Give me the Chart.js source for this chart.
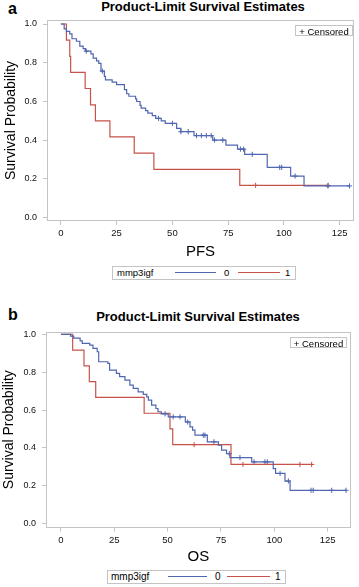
<!DOCTYPE html>
<html>
<head>
<meta charset="utf-8">
<script src="https://cdn.jsdelivr.net/npm/chart.js@4.4.1/dist/chart.umd.min.js"></script>
<style>
  html, body { margin:0; padding:0; background:#fff; }
  body { width:359px; height:587px; position:relative; overflow:hidden; font-family:"Liberation Sans", Arial, sans-serif; color:#000; }
  canvas { position:absolute; left:0; }
  .lab { position:absolute; font-weight:bold; font-size:16px; line-height:16px; }
  .ttl { position:absolute; font-weight:bold; font-size:13px; line-height:13px; white-space:nowrap; transform:translateX(-50%); }
  .cens { position:absolute; border:1px solid #c4c4c4; box-sizing:border-box; font-size:9.5px; line-height:9px; text-align:center; white-space:nowrap; background:#fff; }
  .leg { position:absolute; border:1px solid #c4c4c4; box-sizing:border-box; background:#fff; }
  .lt { position:absolute; font-size:9.5px; line-height:10px; white-space:nowrap; }
  .ll { position:absolute; height:0; border-top:1.3px solid; }
</style>
</head>
<body>
<div class="lab" style="left:8px;top:1px;">a</div>
<div class="ttl" style="left:203px;top:0px;">Product-Limit Survival Estimates</div>
<canvas id="cA" width="359" height="265" style="top:0px;"></canvas>
<div class="cens" style="left:295px;top:25px;width:58px;height:11px;padding-top:1px;">+ Censored</div>
<div class="leg" style="left:112px;top:266px;width:184px;height:14px;"></div>
<div class="lt" style="left:117px;top:268px;">mmp3igf</div>
<div class="ll" style="left:175px;top:272px;width:41px;border-color:#4f66b0;"></div>
<div class="lt" style="left:224px;top:268px;">0</div>
<div class="ll" style="left:238px;top:272px;width:42px;border-color:#c5534a;"></div>
<div class="lt" style="left:285px;top:268px;">1</div>

<div class="lab" style="left:8px;top:307px;">b</div>
<div class="ttl" style="left:198px;top:310px;">Product-Limit Survival Estimates</div>
<canvas id="cB" width="359" height="270" style="top:300px;"></canvas>
<div class="cens" style="left:290px;top:337px;width:57px;height:11px;padding-top:1px;">+ Censored</div>
<div class="leg" style="left:107px;top:570px;width:179px;height:14px;"></div>
<div class="lt" style="left:111px;top:572px;font-size:10px;">mmp3igf</div>
<div class="ll" style="left:168px;top:576px;width:39px;border-color:#4f66b0;"></div>
<div class="lt" style="left:215px;top:572px;font-size:10px;">0</div>
<div class="ll" style="left:227px;top:576px;width:43px;border-color:#c5534a;"></div>
<div class="lt" style="left:275px;top:572px;font-size:10px;">1</div>

<script>
// ---------- DATA ----------
const xTicks = [0, 25, 50, 75, 100, 125];
const yTicks = [0.0, 0.2, 0.4, 0.6, 0.8, 1.0];
const groupLabels = ['0', '1'];

// Panel a: PFS
const pfsTime0 = [0, 1.5, 2.5, 4, 5, 7, 8.5, 10, 11, 13.5, 14.5, 16, 17, 18, 19.5, 20, 23, 25, 28.5, 29.5, 30.5, 33.5, 34, 35.5, 36, 38, 39, 41, 42.5, 45, 46.8, 51.9, 53.8, 59.7, 68.1, 74, 79.2, 82.4, 92.5, 103, 109, 129.4];
const pfsSurv0 = [1, 0.975, 0.962, 0.949, 0.924, 0.911, 0.886, 0.873, 0.86, 0.846, 0.824, 0.81, 0.797, 0.757, 0.73, 0.712, 0.70, 0.687, 0.661, 0.64, 0.627, 0.613, 0.60, 0.58, 0.566, 0.553, 0.54, 0.527, 0.513, 0.50, 0.487, 0.461, 0.444, 0.424, 0.401, 0.375, 0.354, 0.327, 0.26, 0.215, 0.164, 0.164];
const pfsCens0 = [11.4, 18.6, 43.8, 50, 53.8, 57.1, 60.8, 63, 65.2, 67.4, 68.9, 72.6, 80.5, 81.9, 85.8, 98.1, 99, 105, 119.7, 129.4];
const pfsTime1 = [0, 2.5, 4, 4.4, 10.9, 13.3, 15.5, 22, 32.9, 41.7, 80.2, 119.8];
const pfsSurv1 = [1, 0.917, 0.833, 0.75, 0.667, 0.583, 0.5, 0.417, 0.333, 0.25, 0.167, 0.167];
const pfsCens1 = [87.3, 119.8];

// Panel b: OS
const osTime0 = [0, 4.5, 6, 9, 10, 13.5, 15, 17, 17.7, 22, 22.8, 26, 27.5, 30, 32.3, 33.9, 36.2, 38.6, 40.2, 41, 42.5, 44.5, 45.5, 47, 50.3, 58.3, 60.5, 61.7, 62.8, 68.6, 73.8, 75.3, 77.6, 79.2, 89.4, 99.5, 100.6, 105, 107.4, 133.6];
const osSurv0 = [1, 0.99, 0.98, 0.965, 0.952, 0.943, 0.926, 0.908, 0.855, 0.847, 0.811, 0.794, 0.776, 0.758, 0.732, 0.714, 0.696, 0.683, 0.67, 0.652, 0.626, 0.608, 0.591, 0.58, 0.564, 0.537, 0.511, 0.494, 0.467, 0.432, 0.414, 0.388, 0.37, 0.349, 0.326, 0.291, 0.265, 0.225, 0.176, 0.176];
const osCens0 = [48.8, 52.6, 55.8, 59.4, 66.7, 67.5, 71.7, 78.9, 83.9, 90.5, 95.6, 96.7, 102.7, 106.6, 117.2, 118.2, 126.9, 133.6];
const osTime1 = [0, 5.5, 10.8, 13.3, 16.3, 39, 51.1, 52.4, 79.7, 117.5];
const osSurv1 = [1, 0.917, 0.833, 0.75, 0.667, 0.583, 0.5, 0.417, 0.3125, 0.3125];
const osCens1 = [62.4, 85.3, 112, 117.5];

// ---------- STYLE ----------
const BLUE = '#4f66b0';
const RED = '#c5534a';
const FRAME = '#c4c4c4';
const FONT = '"Liberation Sans", Arial, sans-serif';

function steps(times, surv) { return times.map((t, i) => ({ x: t, y: surv[i] })); }
function survAt(times, surv, t) {
  let s = surv[0];
  for (let i = 0; i < times.length; i++) { if (times[i] <= t) s = surv[i]; }
  return s;
}
function censPts(cens, times, surv) { return cens.map(t => ({ x: t, y: survAt(times, surv, t) })); }

const framePlugin = {
  id: 'frame',
  beforeDatasetsDraw(chart) {
    const a = chart.chartArea, c = chart.ctx;
    c.save();
    c.strokeStyle = FRAME; c.lineWidth = 1;
    c.strokeRect(Math.round(a.left) + 0.5, Math.round(a.top) + 0.5, Math.round(a.right - a.left) - 1, Math.round(a.bottom - a.top) - 1);
    c.restore();
  }
};

function makeChart(id, cfg) {
  const ctx = document.getElementById(id).getContext('2d');
  return new Chart(ctx, {
    type: 'line',
    data: {
      datasets: [
        { label: groupLabels[0], data: steps(cfg.t0, cfg.s0), stepped: true, borderColor: BLUE, borderWidth: 1.2, pointRadius: 0, fill: false },
        { label: groupLabels[1], data: steps(cfg.t1, cfg.s1), stepped: true, borderColor: RED, borderWidth: 1.2, pointRadius: 0, fill: false },
        { type: 'scatter', data: censPts(cfg.c0, cfg.t0, cfg.s0), pointStyle: 'cross', pointRadius: 2.6, borderColor: BLUE, borderWidth: 1, showLine: false },
        { type: 'scatter', data: censPts(cfg.c1, cfg.t1, cfg.s1), pointStyle: 'cross', pointRadius: 2.6, borderColor: RED, borderWidth: 1, showLine: false }
      ]
    },
    options: {
      responsive: false, animation: false, events: [],
      layout: { padding: cfg.pad },
      plugins: { legend: { display: false }, tooltip: { enabled: false }, title: { display: false } },
      scales: {
        x: {
          type: 'linear', min: cfg.xmin, max: cfg.xmax,
          afterBuildTicks: s => { s.ticks = xTicks.map(v => ({ value: v })); },
          afterFit: s => { s.height = cfg.xh; },
          ticks: { font: { family: FONT, size: 9.5 }, color: '#111', padding: 3, maxRotation: 0, autoSkip: false },
          grid: { drawOnChartArea: false, drawTicks: true, tickLength: 4, color: FRAME },
          border: { display: false },
          title: { display: true, text: cfg.xtitle, font: { family: FONT, size: 15 }, color: '#000', padding: { top: 0, bottom: 4 } }
        },
        y: {
          type: 'linear', min: cfg.ymin, max: cfg.ymax,
          afterBuildTicks: s => { s.ticks = yTicks.map(v => ({ value: v })); },
          afterFit: s => { s.width = cfg.yw; },
          ticks: { font: { family: FONT, size: 9 }, color: '#111', padding: 6, callback: v => v.toFixed(1) },
          grid: { drawOnChartArea: false, drawTicks: true, tickLength: 4, color: FRAME },
          border: { display: false },
          title: { display: true, text: 'Survival Probability', font: { family: FONT, size: 14 }, color: '#000', padding: { top: cfg.ytp, bottom: 0 } }
        }
      }
    },
    plugins: [framePlugin]
  });
}

makeChart('cA', {
  t0: pfsTime0, s0: pfsSurv0, c0: pfsCens0, t1: pfsTime1, s1: pfsSurv1, c1: pfsCens1,
  xmin: -6.2, xmax: 131.4, ymin: -0.017, ymax: 1.0207,
  pad: { top: 20, right: 1, left: 0, bottom: 0 }, xh: 44, yw: 47, ytp: 2.4, xtitle: 'PFS'
});
makeChart('cB', {
  t0: osTime0, s0: osSurv0, c0: osCens0, t1: osTime1, s1: osSurv1, c1: osCens1,
  xmin: -7, xmax: 135.8, ymin: -0.021, ymax: 1.0138,
  pad: { top: 31.7, right: 8.3, left: 0, bottom: 0 }, xh: 42.4, yw: 46, ytp: 0.5, xtitle: 'OS'
});
</script>
</body>
</html>
